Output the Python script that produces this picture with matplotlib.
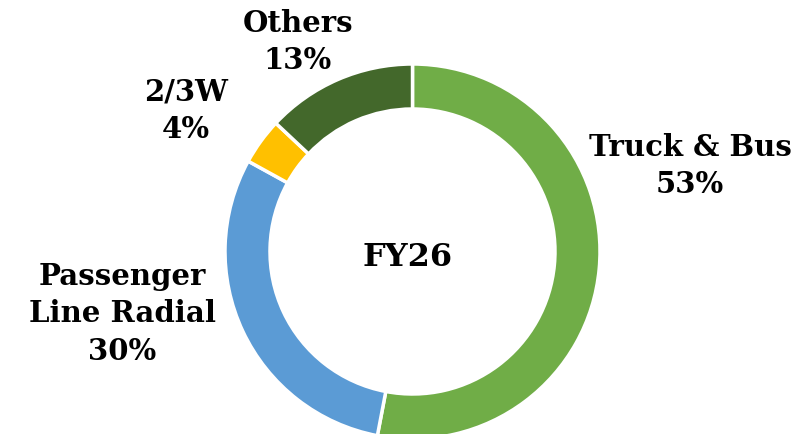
import matplotlib
matplotlib.use("Agg")
import matplotlib.pyplot as plt

categories = ["Truck & Bus", "Passenger\nLine Radial", "2/3W", "Others"]
shares = [53, 30, 4, 13]
colors = ["#70AD47", "#5B9BD5", "#FFC000", "#43682B"]
center_label = "FY26"

W, H = 802, 435
fig = plt.figure(figsize=(W / 100, H / 100), dpi=100)
ax = fig.add_axes([0, 0, 1, 1])

cx, cy, R = 412.5, H - 252.5, 187.5
ax.pie(shares, colors=colors, startangle=90, counterclock=False,
       center=(cx, cy), radius=R, frame=True,
       wedgeprops=dict(width=45, edgecolor="white", linewidth=2.5))
ax.set_xlim(0, W)
ax.set_ylim(0, H)
ax.set_aspect("equal")
ax.axis("off")

font = dict(family="DejaVu Serif", weight="bold", fontsize=21, ha="center",
            va="center", linespacing=1.37, color="black")
label_pos = [(690, H - 166), (122, H - 314), (186, H - 111), (298, H - 42)]
for name, val, (x, y) in zip(categories, shares, label_pos):
    ax.text(x, y, f"{name}\n{val}%", **font)

ax.text(408, H - 258, center_label, **{**font, "fontsize": 23})

fig.savefig("out.png", dpi=100)
